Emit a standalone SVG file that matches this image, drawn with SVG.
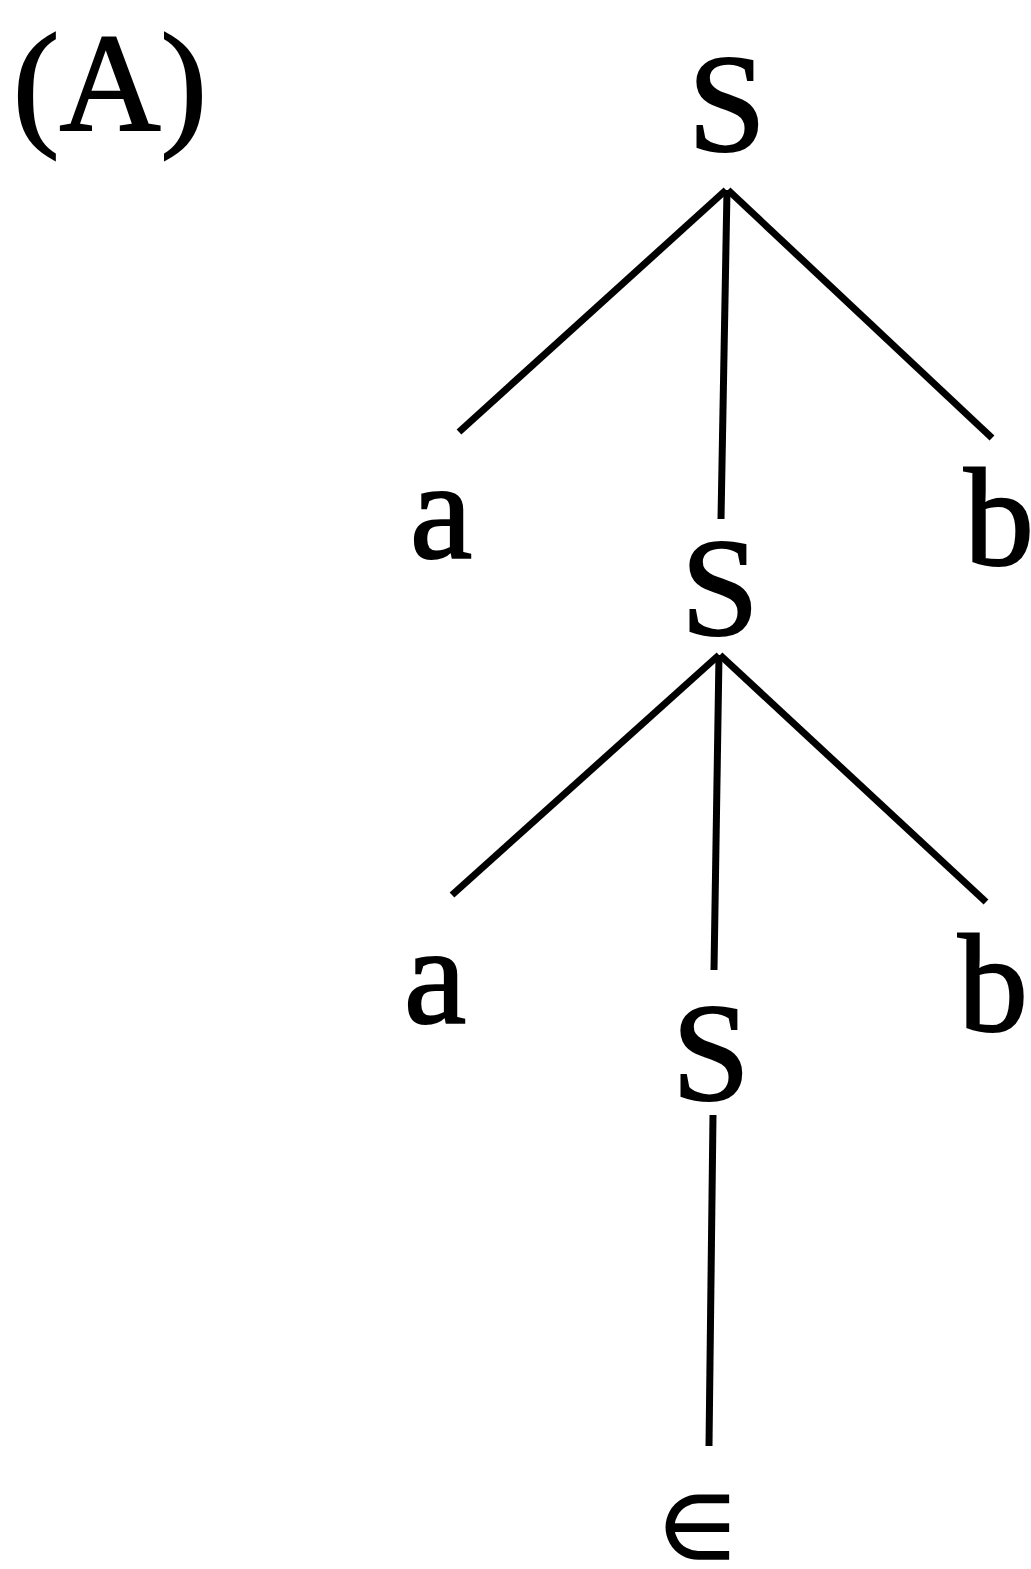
<svg xmlns="http://www.w3.org/2000/svg" width="1031" height="1569" viewBox="0 0 1031 1569">
<style>
.t{font-family:'Liberation Serif','Times New Roman',Times,serif;font-size:140px;fill:#000;stroke:#000;stroke-width:2;text-anchor:middle}
.e{stroke:#000;stroke-width:7;fill:none;stroke-linecap:butt}
</style>
<rect width="1031" height="1569" fill="#fff"/>
<text class="t" x="110" y="130">(A)</text>
<g id="edges">
<line class="e" x1="726" y1="190" x2="459" y2="432"/>
<line class="e" x1="727" y1="190" x2="721" y2="519"/>
<line class="e" x1="728" y1="190" x2="992" y2="438"/>
<line class="e" x1="719" y1="655" x2="452" y2="895"/>
<line class="e" x1="719" y1="655" x2="714" y2="970"/>
<line class="e" x1="720" y1="655" x2="986" y2="902"/>
<line class="e" x1="713" y1="1115" x2="709" y2="1446"/>
</g>
<g id="S1"><text class="t" x="727" y="151">S</text></g>
<g id="a1"><text class="t" x="441" y="558">a</text></g>
<g id="S2"><text class="t" x="720" y="635">S</text></g>
<g id="b1"><text class="t" x="999" y="565">b</text></g>
<g id="a2"><text class="t" x="435" y="1023">a</text></g>
<g id="S3"><text class="t" x="711" y="1100">S</text></g>
<g id="b2"><text class="t" x="993" y="1031">b</text></g>
<g id="eps"><text class="t" x="697" y="1558" style="font-size:88px">∈</text></g>
</svg>
